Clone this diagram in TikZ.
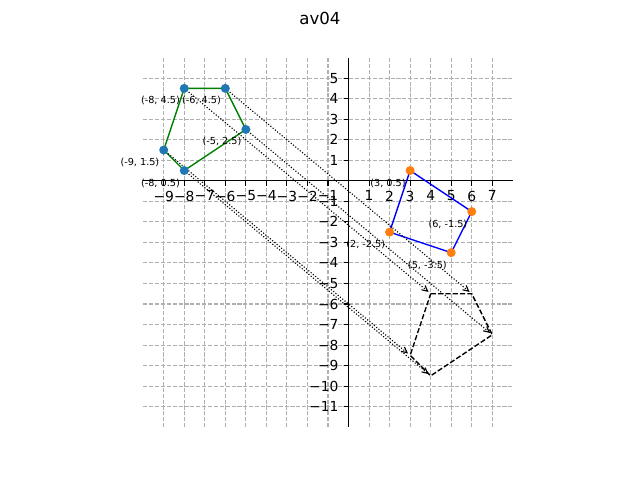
\documentclass[tikz,border=0pt]{standalone}
\usepackage{fontspec}
\setmainfont{DejaVu Sans}
\usetikzlibrary{arrows.meta}
\definecolor{tabblue}{HTML}{1F77B4}
\definecolor{taborange}{HTML}{FF7F0E}
\definecolor{gridgray}{HTML}{B0B0B0}
\definecolor{mplgreen}{HTML}{008000}

\begin{document}
\begin{tikzpicture}[
    x=0.52155cm, y=0.52155cm,
    gridline/.style={gridgray, line width=0.8bp, dash pattern=on 2.96bp off 1.28bp},
    spine/.style={black, line width=0.8bp},
    tickmark/.style={black, line width=0.8bp},
    ticklabel/.style={font=\fontsize{10}{12}\selectfont, inner sep=0pt},
    ptlabel/.style={font=\fontsize{7}{8.4}\selectfont, inner sep=0pt, anchor=east, xshift=-3bp, yshift=-9bp},
    bluedot/.style={circle, fill=tabblue, inner sep=0pt, minimum size=6.5bp},
    orangedot/.style={circle, fill=taborange, inner sep=0pt, minimum size=6.5bp},
    polyline/.style={line width=1bp, line join=round},
    imagepoly/.style={black, line width=1bp, dash pattern=on 3.7bp off 1.6bp},
    arrow/.style={-{Straight Barb[length=4bp,width=4bp]}, line width=0.8bp, dash pattern=on 0.8bp off 1.32bp, shorten <=2bp, shorten >=2bp}
]
    \useasboundingbox (-16.974,-14.571) rectangle (14.195,8.805);

    % Title
    \node (title) at (-1.39,7.93) {\fontsize{12}{14.4}\selectfont av04};

    % Grid
    \foreach \x in {-9,...,-1,1,2,...,7}
        \draw[gridline] (\x,-12) -- (\x,6);
    \foreach \y in {-11,...,-1,1,2,...,5}
        \draw[gridline] (-10,\y) -- (8,\y);

    % Axes through the origin
    \draw[spine] (-10,0) -- (8,0);
    \draw[spine] (0,-12) -- (0,6);
    \foreach \x in {-9,...,-1,1,2,...,7} {
        \pgfmathtruncatemacro\n{abs(\x)}
        \draw[tickmark] (\x,0) -- ++(0,-3.5bp);
        \node[ticklabel, anchor=north, yshift=-7bp] (xt\x) at (\x,0) {\ifnum\x<0 −\fi\n};
    }
    \foreach \y in {-11,...,-1,1,2,...,5} {
        \pgfmathtruncatemacro\n{abs(\y)}
        \draw[tickmark] (0,\y) -- ++(-3.5bp,0);
        \node[ticklabel, anchor=east, xshift=-7bp] (yt\y) at (0,\y) {\ifnum\y<0 −\fi\n};
    }

    % Original pentagon
    \coordinate (a1) at (-8,4.5);
    \coordinate (a2) at (-6,4.5);
    \coordinate (a3) at (-5,2.5);
    \coordinate (a4) at (-8,0.5);
    \coordinate (a5) at (-9,1.5);

    % Translated pentagon
    \coordinate (b1) at (4,-5.5);
    \coordinate (b2) at (6,-5.5);
    \coordinate (b3) at (7,-7.5);
    \coordinate (b4) at (4,-9.5);
    \coordinate (b5) at (3,-8.5);

    % Quadrilateral
    \coordinate (c1) at (3,0.5);
    \coordinate (c2) at (6,-1.5);
    \coordinate (c3) at (5,-3.5);
    \coordinate (c4) at (2,-2.5);

    \draw[polyline, mplgreen] (a1) -- (a2) -- (a3) -- (a4) -- (a5) -- cycle;
    \draw[polyline, blue] (c1) -- (c2) -- (c3) -- (c4) -- cycle;
    \draw[imagepoly] (b1) -- (b2) -- (b3) -- (b4) -- (b5) -- cycle;

    % Translation arrows
    \foreach \i in {1,...,5}
        \draw[arrow] (a\i) -- (b\i);

    % Points
    \foreach \i in {1,...,5}
        \node[bluedot] (da\i) at (a\i) {};
    \foreach \i in {1,...,4}
        \node[orangedot] (dc\i) at (c\i) {};

    % Labels
    \node[ptlabel] (la1) at (a1) {(-8, 4.5)};
    \node[ptlabel] (la2) at (a2) {(-6, 4.5)};
    \node[ptlabel] (la3) at (a3) {(-5, 2.5)};
    \node[ptlabel] (la4) at (a4) {(-8, 0.5)};
    \node[ptlabel] (la5) at (a5) {(-9, 1.5)};
    \node[ptlabel] (lc1) at (c1) {(3, 0.5)};
    \node[ptlabel] (lc2) at (c2) {(6, -1.5)};
    \node[ptlabel] (lc3) at (c3) {(5, -3.5)};
    \node[ptlabel] (lc4) at (c4) {(2, -2.5)};
\end{tikzpicture}
\end{document}
